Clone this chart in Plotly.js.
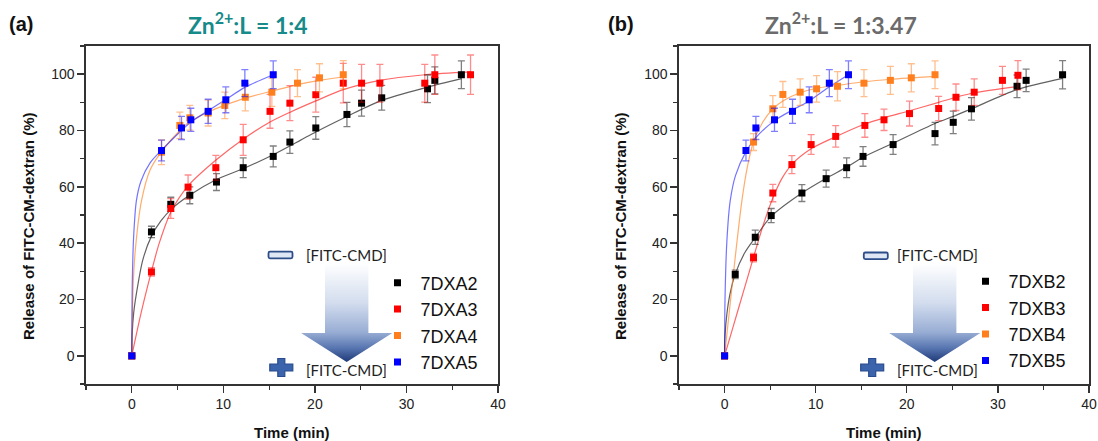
<!DOCTYPE html>
<html>
<head>
<meta charset="utf-8">
<script src="https://cdn.plot.ly/plotly-3.0.1.min.js"></script>
<style>
  html, body { margin: 0; padding: 0; background: #ffffff; }
  #chart { width: 1098px; height: 441px; }
</style>
</head>
<body>
<div id="chart"></div>
<script>
// ---------- Panel (a): Zn2+:L = 1:4 ----------
const seriesA = ['7DXA2', '7DXA3', '7DXA4', '7DXA5'];

const tA2 = [0, 2.15, 4.26, 6.34, 9.25, 12.17, 15.45, 17.27, 20.1, 23.5, 25.1, 27.3, 32.3, 33.1, 36.0];
const yA2 = [0, 44.0, 53.8, 57.0, 61.7, 66.8, 70.8, 75.9, 80.9, 85.7, 89.7, 91.6, 94.8, 97.8, 99.8];
const eA2 = [0, 2.0, 2.5, 3.0, 3.0, 3.5, 3.7, 4.0, 4.0, 4.3, 4.6, 4.4, 4.9, 4.8, 4.9];

const tA3 = [0, 2.15, 4.26, 6.15, 9.18, 12.17, 15.1, 17.27, 20.1, 23.1, 25.1, 27.1, 32.0, 33.1, 37.0];
const yA3 = [0, 29.8, 52.3, 59.9, 66.8, 76.7, 86.8, 89.7, 92.7, 96.8, 96.8, 96.8, 96.8, 99.8, 99.8];
const eA3 = [0, 1.5, 3.5, 4.3, 4.4, 5.5, 6.0, 6.2, 6.2, 7.0, 6.7, 6.7, 6.7, 7.0, 7.0];

const tA4 = [0, 3.25, 5.25, 6.34, 8.34, 10.16, 12.4, 15.3, 18.1, 20.5, 23.1];
const yA4 = [0, 72.3, 81.8, 84.5, 86.2, 88.9, 91.8, 93.6, 96.8, 98.7, 99.8];
const eA4 = [0, 4.4, 4.7, 4.4, 4.6, 4.7, 4.8, 5.0, 4.8, 5.0, 5.0];

const tA5 = [0, 3.25, 5.43, 6.45, 8.34, 10.27, 12.35, 15.45];
const yA5 = [0, 72.9, 80.9, 83.8, 86.8, 90.9, 96.8, 99.8];
const eA5 = [0, 3.7, 4.1, 4.1, 4.3, 4.6, 4.8, 4.9];

// fitted release curves, panel (a)
const fitA2t = [0, 0.05, 0.2, 0.5, 1.2, 2.15, 3.2, 4.3, 6.3, 9.2, 12.2, 15.5, 18.4, 20.1, 23.5, 27.3, 32.3, 36.0];
const fitA2y = [0, 8, 15, 22, 34, 42.5, 48, 52, 57, 62.5, 66.5, 71.5, 76.5, 79.5, 85, 90.7, 95.4, 98.4];
const fitA3t = [0, 1, 2.15, 3, 4.26, 6.2, 9.2, 12.2, 15.1, 17.3, 20.1, 23.1, 27.1, 32.0, 37.0];
const fitA3y = [0, 15, 30, 40, 51, 60.5, 69.5, 77, 83, 86.5, 90.5, 94.5, 97.8, 99.8, 100.8];
const fitA4t = [0, 0.15, 0.4, 1.06, 2, 3.25, 5.25, 6.3, 8.3, 10.2, 12.4, 15.3, 18.1, 20.5, 23.1];
const fitA4y = [0, 25, 38, 55, 66, 72.5, 80, 83, 86.5, 89, 91.5, 94, 96.3, 97.8, 99];
const fitA5t = [0, 0.05, 0.2, 0.5, 1, 2, 3.25, 5.43, 6.45, 8.34, 10.27, 12.35, 15.45];
const fitA5y = [0, 25, 42, 55, 62, 68.5, 73, 80, 83, 87, 91, 95.3, 99.8];

// ---------- Panel (b): Zn2+:L = 1:3.47 ----------
const seriesB = ['7DXB2', '7DXB3', '7DXB4', '7DXB5'];

const tB2 = [0, 1.17, 3.37, 5.12, 8.49, 11.15, 13.4, 15.2, 18.5, 23.1, 25.1, 27.1, 32.1, 33.1, 37.1];
const yB2 = [0, 28.9, 42.1, 49.8, 57.8, 62.9, 66.8, 70.8, 75.0, 78.9, 82.9, 87.7, 95.7, 97.8, 99.8];
const eB2 = [0, 1.5, 2.5, 2.5, 3.0, 3.0, 3.5, 3.5, 3.5, 4.0, 4.0, 4.0, 4.0, 4.0, 5.0];

const tB3 = [0, 3.18, 5.3, 7.39, 9.5, 12.2, 15.4, 17.5, 20.3, 23.5, 25.4, 27.4, 30.5, 32.2];
const yB3 = [0, 34.9, 57.8, 67.9, 75.0, 77.9, 81.8, 83.8, 86.0, 87.8, 91.8, 93.6, 97.8, 99.6];
const eB3 = [0, 1.5, 3.1, 3.2, 3.5, 3.8, 4.2, 3.8, 4.4, 4.3, 4.7, 4.7, 5.0, 5.2];

const tB4 = [0, 3.18, 5.3, 6.4, 8.3, 10.1, 12.4, 15.3, 18.2, 20.5, 23.1];
const yB4 = [0, 75.9, 87.7, 92.8, 93.6, 94.8, 95.7, 96.8, 97.8, 98.7, 99.8];
const eB4 = [0, 3.0, 4.7, 4.6, 4.7, 4.7, 5.2, 4.8, 5.0, 5.0, 4.9];

const tB5 = [0, 2.35, 3.44, 5.48, 7.46, 9.29, 11.5, 13.6];
const yB5 = [0, 72.9, 80.9, 83.8, 86.8, 90.9, 96.8, 99.8];
const eB5 = [0, 3.7, 4.1, 4.1, 4.3, 4.6, 4.8, 4.9];

// fitted release curves, panel (b)
const fitB2t = [0, 0.05, 0.26, 0.6, 1.17, 2.2, 3.37, 5.12, 8.49, 11.15, 13.4, 15.2, 18.5, 23.1, 25.1, 27.1, 32.1, 37.1];
const fitB2y = [0, 7, 15, 22, 29, 36.5, 42, 49.5, 57.8, 63, 67, 70.5, 75.5, 82.5, 85, 87.7, 94.5, 98.5];
const fitB3t = [0, 1, 2, 3.18, 4.2, 5.3, 6.3, 7.4, 9.5, 12.2, 15.4, 17.5, 20.3, 23.5, 25.4, 27.4, 32.1];
const fitB3y = [0, 11, 22, 35, 46, 56, 63, 68, 73.5, 77.8, 82.3, 84.5, 87, 90, 91.8, 93.4, 95.6];
const fitB4t = [0, 0.5, 1, 1.9, 2.5, 3.18, 4.2, 5.3, 6.4, 8.3, 10.1, 12.4, 15.3, 18.2, 20.5, 23.1];
const fitB4y = [0, 15, 30, 55, 67, 76, 83, 87.7, 90.5, 93.4, 95, 96, 97.3, 98.2, 98.7, 99.2];
const fitB5t = [0, 0.05, 0.26, 0.62, 1.2, 2.35, 3.44, 5.48, 7.46, 9.29, 11.5, 13.6];
const fitB5y = [0, 20, 41, 55, 64, 72.5, 77.5, 83.5, 87.3, 90.5, 95.5, 99.8];

// ---------- styling ----------
const W = 1098, H = 441;
const fx = px => px / W;
const fy = py => 1 - py / H;

const colors = ['#000000', '#ff0000', '#ff7f1f', '#0000ff'];
const barColors = ['rgba(0,0,0,0.5)', 'rgba(255,0,0,0.45)', 'rgba(255,127,31,0.5)', 'rgba(0,0,255,0.5)'];
const curveColors = ['rgba(0,0,0,0.62)', 'rgba(255,0,0,0.6)', 'rgba(255,127,31,0.65)', 'rgba(0,0,255,0.55)'];

function curve(t, y, i, xa, ya) {
  return {
    x: t, y: y, xaxis: xa, yaxis: ya, type: 'scatter', mode: 'lines',
    line: { color: curveColors[i], width: 1.2, shape: 'spline', smoothing: 0.8 },
    showlegend: false, hoverinfo: 'skip'
  };
}
function points(t, y, e, i, name, xa, ya, lg) {
  return {
    x: t, y: y, xaxis: xa, yaxis: ya, type: 'scatter', mode: 'markers', name: name, legend: lg,
    marker: { symbol: 'square', size: 7, color: colors[i], line: { width: 0 } },
    error_y: { type: 'data', array: e, visible: true, color: barColors[i], thickness: 1.3, width: 3.5 }
  };
}

const dataA = [[tA2, yA2, eA2], [tA3, yA3, eA3], [tA4, yA4, eA4], [tA5, yA5, eA5]];
const dataB = [[tB2, yB2, eB2], [tB3, yB3, eB3], [tB4, yB4, eB4], [tB5, yB5, eB5]];
const fitsA = [[fitA2t, fitA2y], [fitA3t, fitA3y], [fitA4t, fitA4y], [fitA5t, fitA5y]];
const fitsB = [[fitB2t, fitB2y], [fitB3t, fitB3y], [fitB4t, fitB4y], [fitB5t, fitB5y]];

const traces = [];
fitsA.forEach((f, i) => traces.push(curve(f[0], f[1], i, 'x', 'y')));
fitsB.forEach((f, i) => traces.push(curve(f[0], f[1], i, 'x2', 'y2')));
dataA.forEach((d, i) => traces.push(points(d[0], d[1], d[2], i, seriesA[i], 'x', 'y', 'legend')));
dataB.forEach((d, i) => traces.push(points(d[0], d[1], d[2], i, seriesB[i], 'x2', 'y2', 'legend2')));

const tickFont = { family: 'Liberation Sans, Arial, sans-serif', size: 14, color: '#222' };
function xAxis(domain, anchor) {
  return {
    domain: domain, anchor: anchor, range: [-5, 40], tickmode: 'linear', tick0: 0, dtick: 10,
    showline: true, linecolor: '#333', linewidth: 1.6, mirror: true,
    ticks: 'outside', ticklen: 7, tickwidth: 1.4, tickcolor: '#333',
    minor: { ticks: 'outside', ticklen: 4, tickwidth: 1.2, tickcolor: '#333', tick0: 0, dtick: 5, showgrid: false },
    showgrid: false, zeroline: false, tickfont: tickFont, fixedrange: true
  };
}
function yAxis(domain, anchor) {
  return {
    domain: domain, anchor: anchor, range: [-10, 110], tickmode: 'linear', tick0: 0, dtick: 20,
    showline: true, linecolor: '#333', linewidth: 1.6, mirror: true,
    ticks: 'outside', ticklen: 7, tickwidth: 1.4, tickcolor: '#333',
    minor: { ticks: 'outside', ticklen: 4, tickwidth: 1.2, tickcolor: '#333', tick0: 0, dtick: 10, showgrid: false },
    showgrid: false, zeroline: false, tickfont: tickFont, fixedrange: true
  };
}

const yDom = [fy(384), fy(46)];
const boldFont = (size, color) => ({ family: 'Liberation Sans, Arial, sans-serif', size: size, color: color || '#111', weight: 'bold' });
const ann = (x, y, text, font, extra) => Object.assign({
  xref: 'paper', yref: 'paper', x: fx(x), y: fy(y), text: text, showarrow: false, font: font,
  xanchor: 'center', yanchor: 'middle'
}, extra || {});

const labelFont = { family: 'Lato, Liberation Sans, sans-serif', size: 15, color: '#222' };
const annotations = [
  ann(21, 24, '(a)', boldFont(20)),
  ann(248, 24, 'Zn<sup>2+</sup>:L = 1:4', { family: 'Lato, sans-serif', size: 23, color: '#178a8a', weight: 'bold' }),
  ann(621, 24, '(b)', boldFont(20)),
  ann(841, 24, 'Zn<sup>2+</sup>:L = 1:3.47', { family: 'Lato, sans-serif', size: 23, color: '#6b6b6b', weight: 'bold' }),
  ann(28, 226, 'Release of FITC-CM-dextran (%)', boldFont(15), { textangle: -90 }),
  ann(620, 226, 'Release of FITC-CM-dextran (%)', boldFont(15), { textangle: -90 }),
  ann(292, 432, 'Time (min)', boldFont(15)),
  ann(884, 432, 'Time (min)', boldFont(15)),
  ann(304, 255, '[FITC-CMD]', labelFont, { xanchor: 'left' }),
  ann(304, 370, '[FITC-CMD]', labelFont, { xanchor: 'left' }),
  ann(895, 255, '[FITC-CMD]', labelFont, { xanchor: 'left' }),
  ann(895, 370, '[FITC-CMD]', labelFont, { xanchor: 'left' })
];

// down arrow with minus / plus markers, drawn as one overlay in figure pixels
function arrowGroup(id, cx, mx, my, px, py) {
  const shaft = 21.7, head = 45.6;
  const top = 263, base = 333, tip = 362;
  const pts = [
    [cx - shaft, top], [cx + shaft, top], [cx + shaft, base], [cx + head, base],
    [cx, tip], [cx - head, base], [cx - shaft, base]
  ].map(p => p.join(',')).join(' ');
  const plus = `M${px - 3.5},${py - 9} h7 v5.5 h8 v7 h-8 v5.5 h-7 v-5.5 h-8 v-7 h8 z`;
  return `
  <linearGradient id="${id}" x1="0" y1="${top}" x2="0" y2="${tip}" gradientUnits="userSpaceOnUse">
    <stop offset="0" stop-color="#ffffff"/>
    <stop offset="0.4" stop-color="#d3ddee"/>
    <stop offset="0.7" stop-color="#98add4"/>
    <stop offset="0.86" stop-color="#5775b0"/>
    <stop offset="1" stop-color="#1e3a78"/>
  </linearGradient>
  <polygon points="${pts}" fill="url(#${id})"/>
  <rect x="${mx - 12}" y="${my - 3.3}" width="24" height="6.6" rx="1.5" fill="#dfe7f4" stroke="#2d4c8a" stroke-width="1.8"/>
  <path d="${plus}" fill="#3b64ad" stroke="#294b8d" stroke-width="1.2"/>`;
}
const svg = `<svg xmlns="http://www.w3.org/2000/svg" width="${W}" height="${H}" viewBox="0 0 ${W} ${H}"><defs></defs>` +
  arrowGroup('ga', 346.7, 280.5, 255, 281.3, 367.5) +
  arrowGroup('gb', 934.7, 875.8, 255.8, 872.2, 367.5) +
  `</svg>`;

const legendBase = {
  xanchor: 'left', yanchor: 'top', bgcolor: 'rgba(0,0,0,0)', borderwidth: 0,
  font: { family: 'Liberation Sans, Arial, sans-serif', size: 18, color: '#111' },
  tracegroupgap: 0, itemwidth: 36, traceorder: 'normal'
};

const layout = {
  width: W, height: H,
  margin: { l: 0, r: 0, t: 0, b: 0 },
  paper_bgcolor: '#ffffff', plot_bgcolor: '#ffffff',
  xaxis: xAxis([fx(86), fx(498)], 'y'),
  yaxis: yAxis(yDom, 'x'),
  xaxis2: xAxis([fx(679), fx(1089)], 'y2'),
  yaxis2: yAxis(yDom, 'x2'),
  legend: Object.assign({ x: fx(374.5), y: fy(264.5) }, legendBase),
  legend2: Object.assign({ x: fx(962.5), y: fy(263) }, legendBase),
  annotations: annotations,
  images: [{
    source: 'data:image/svg+xml;charset=utf-8,' + encodeURIComponent(svg),
    xref: 'paper', yref: 'paper', x: 0, y: 1, sizex: 1, sizey: 1,
    xanchor: 'left', yanchor: 'top', sizing: 'stretch', layer: 'above'
  }],
  showlegend: true
};

Plotly.newPlot('chart', traces, layout, { displayModeBar: false, staticPlot: true });
</script>
</body>
</html>
